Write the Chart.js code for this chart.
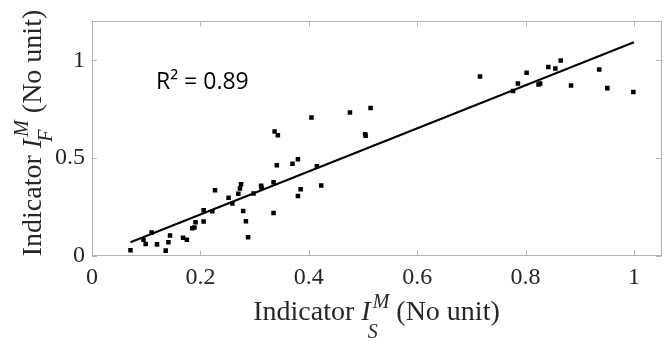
<!DOCTYPE html>
<html>
<head>
<meta charset="utf-8">
<script src="https://cdn.jsdelivr.net/npm/chart.js@4.4.0/dist/chart.umd.min.js"></script>
<style>
  html, body { margin: 0; padding: 0; background: #fff; }
  #wrap { width: 671px; height: 346px; }
</style>
</head>
<body>
<div id="wrap"><canvas id="myChart" width="671" height="346"></canvas></div>
<script>
var indicatorS = [0.071, 0.095, 0.099, 0.110, 0.120, 0.136, 0.141, 0.144, 0.168, 0.175,
  0.185, 0.189, 0.191, 0.206, 0.206, 0.222, 0.227, 0.252, 0.259, 0.270,
  0.273, 0.275, 0.279, 0.284, 0.288, 0.298, 0.312, 0.313, 0.335, 0.335,
  0.337, 0.343, 0.341, 0.370, 0.380, 0.380, 0.385, 0.405, 0.415, 0.423,
  0.476, 0.504, 0.505, 0.514, 0.716, 0.777, 0.786, 0.802, 0.824, 0.827,
  0.842, 0.855, 0.865, 0.884, 0.936, 0.951, 0.999];
var indicatorF = [0.027, 0.081, 0.059, 0.118, 0.057, 0.025, 0.068, 0.103, 0.091, 0.081,
  0.140, 0.144, 0.171, 0.174, 0.232, 0.227, 0.335, 0.296, 0.267, 0.316,
  0.343, 0.365, 0.228, 0.176, 0.093, 0.318, 0.357, 0.347, 0.376, 0.218,
  0.636, 0.616, 0.463, 0.470, 0.493, 0.305, 0.340, 0.707, 0.458, 0.359,
  0.733, 0.621, 0.614, 0.756, 0.917, 0.843, 0.882, 0.937, 0.877, 0.882,
  0.966, 0.959, 1.000, 0.871, 0.953, 0.858, 0.838];

// linear fit end points
var fitX = [0.071, 1.0];
var fitY = [0.068, 1.093];

var xTicks = [0, 0.2, 0.4, 0.6, 0.8, 1];
var yTicks = [0, 0.5, 1];
var r2Label = 'R\u00B2 = 0.89';

var points = indicatorS.map(function (v, i) { return { x: v, y: indicatorF[i] }; });
var fitLine = fitX.map(function (v, i) { return { x: v, y: fitY[i] }; });

var serif = '"Liberation Serif", "Times New Roman", serif';
var boxColor = '#b4b4b4';
var textColor = '#262626';

// draws "Indicator I_sub^sup (No unit)" centred on 0,0 (baseline at 0)
function drawMathTitle(ctx, sub, sup, subDrop, supRise) {
  var fMain = '28px ' + serif;
  var fItal = 'italic 28px ' + serif;
  var fSmall = 'italic 20px ' + serif;
  var a = 'Indicator ', b = ' (No unit)';
  ctx.font = fMain;
  var wa = ctx.measureText(a).width, wb = ctx.measureText(b).width;
  ctx.font = fItal;
  var wi = ctx.measureText('I').width;
  ctx.font = fSmall;
  var ws = Math.max(ctx.measureText(sup).width + 2, ctx.measureText(sub).width - 2);
  var total = wa + wi + ws + wb;
  var x = -total / 2;
  ctx.fillStyle = textColor;
  ctx.textBaseline = 'alphabetic';
  ctx.textAlign = 'left';
  ctx.font = fMain;
  ctx.fillText(a, x, 0);
  x += wa;
  ctx.font = fItal;
  ctx.fillText('I', x, 0);
  x += wi;
  ctx.font = fSmall;
  ctx.fillText(sup, x + 2, -supRise);
  ctx.fillText(sub, x - 3, subDrop);
  x += ws;
  ctx.font = fMain;
  ctx.fillText(b, x, 0);
}

var framePlugin = {
  id: 'frame',
  afterDraw: function (chart) {
    var ctx = chart.ctx, a = chart.chartArea;
    var xs = chart.scales.x, ys = chart.scales.y;
    ctx.save();
    ctx.strokeStyle = boxColor;
    ctx.lineWidth = 1;
    ctx.strokeRect(Math.round(a.left) + 0.5, Math.round(a.top) + 0.5,
      Math.round(a.right - a.left), Math.round(a.bottom - a.top));
    // inward ticks on all four sides
    ctx.beginPath();
    xTicks.forEach(function (v) {
      var px = Math.round(xs.getPixelForValue(v)) + 0.5;
      ctx.moveTo(px, a.bottom); ctx.lineTo(px, a.bottom - 5);
      ctx.moveTo(px, a.top); ctx.lineTo(px, a.top + 5);
    });
    yTicks.forEach(function (v) {
      var py = Math.round(ys.getPixelForValue(v)) + 0.5;
      ctx.moveTo(a.left, py); ctx.lineTo(a.left + 5, py);
      ctx.moveTo(a.right, py); ctx.lineTo(a.right - 5, py);
    });
    ctx.stroke();

    // R squared label
    ctx.font = '23px "Open Sans", sans-serif';
    ctx.fillStyle = '#000';
    ctx.textAlign = 'left';
    ctx.textBaseline = 'alphabetic';
    ctx.fillText(r2Label, xs.getPixelForValue(0.118), ys.getPixelForValue(0.855));

    // axis titles
    ctx.save();
    ctx.translate((a.left + a.right) / 2, 320);
    drawMathTitle(ctx, 'S', 'M', 18, 12);
    ctx.restore();
    ctx.save();
    ctx.translate(41, 133);
    ctx.rotate(-Math.PI / 2);
    drawMathTitle(ctx, 'F', 'M', 11, 13);
    ctx.restore();
    ctx.restore();
  }
};

new Chart(document.getElementById('myChart'), {
  type: 'scatter',
  data: {
    datasets: [{
      label: 'Samples',
      data: points,
      pointStyle: 'rect',
      pointRadius: 3.2,
      pointHoverRadius: 3.2,
      backgroundColor: '#000',
      borderWidth: 0
    }, {
      type: 'line',
      label: 'Fit',
      data: fitLine,
      borderColor: '#000',
      borderWidth: 2,
      pointRadius: 0,
      fill: false
    }]
  },
  options: {
    responsive: false,
    animation: false,
    layout: { padding: { left: 0, right: 10, top: 19, bottom: 0 } },
    plugins: { legend: { display: false }, tooltip: { enabled: false } },
    scales: {
      x: {
        type: 'linear',
        min: 0,
        max: 1.05,
        grid: { display: false, drawTicks: false },
        border: { display: false },
        afterBuildTicks: function (s) { s.ticks = xTicks.map(function (v) { return { value: v }; }); },
        afterFit: function (s) { s.height = 90.5; },
        ticks: {
          padding: 8,
          maxRotation: 0,
          color: textColor,
          font: { family: serif, size: 24 },
          callback: function (v) { return String(v); }
        }
      },
      y: {
        type: 'linear',
        min: 0,
        max: 1.2,
        grid: { display: false, drawTicks: false },
        border: { display: false },
        afterBuildTicks: function (s) { s.ticks = yTicks.map(function (v) { return { value: v }; }); },
        afterFit: function (s) { s.width = 92; },
        ticks: {
          padding: 7,
          color: textColor,
          font: { family: serif, size: 24 },
          callback: function (v) { return String(v); }
        }
      }
    }
  },
  plugins: [framePlugin]
});
</script>
</body>
</html>
